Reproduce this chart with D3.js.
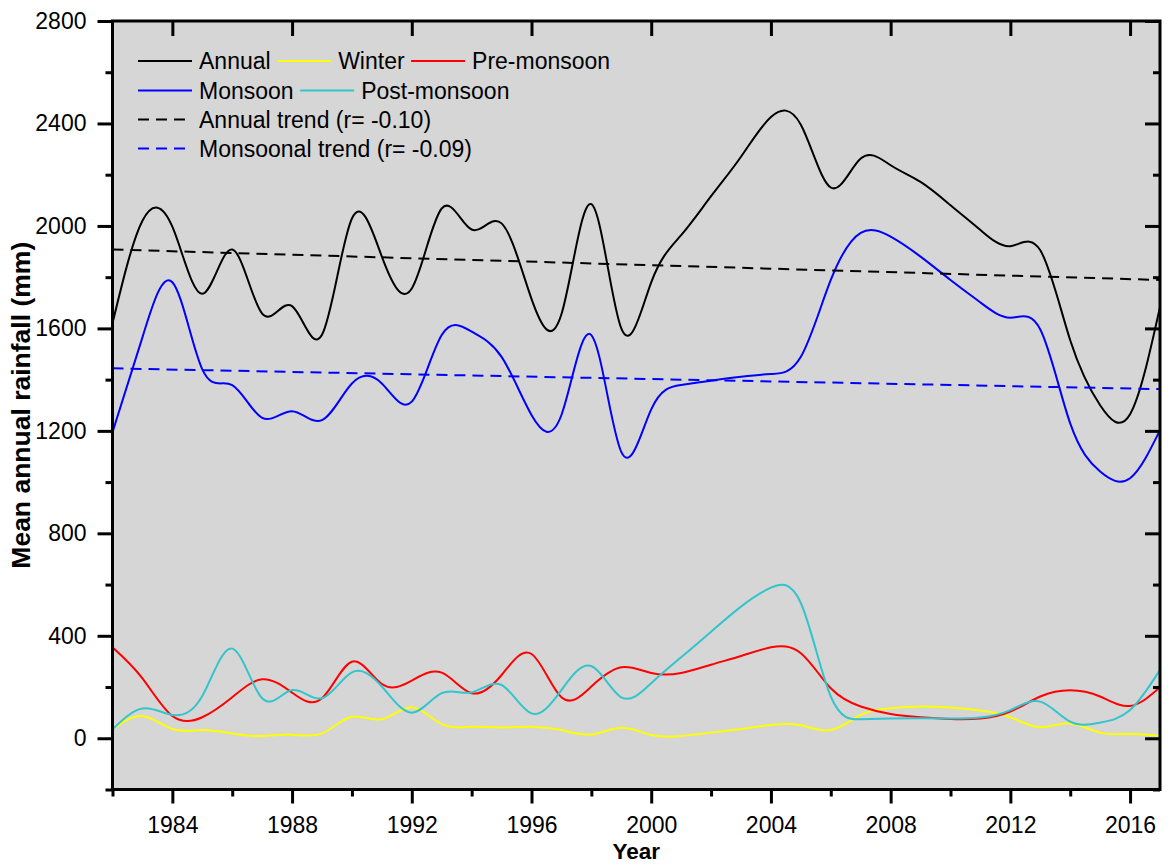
<!DOCTYPE html>
<html><head><meta charset="utf-8">
<script src="https://cdn.jsdelivr.net/npm/d3@7"></script>
<style>
body{margin:0;background:#fff;}
svg{display:block;font-family:"Liberation Sans",Arial,sans-serif;}
</style></head><body>
<svg id="chart" width="1168" height="864"></svg>
<script>
// ---------------- data ----------------
const years = [1982,1983,1984,1985,1986,1987,1988,1989,1990,1991,1992,1993,1994,1995,1996,1997,1998,1999,
               2000,2001,2002,2003,2004,2005,2006,2007,2008,2009,2010,2011,2012,2013,2014,2015,2016,2017];
const annual = [1620,2020,1997,1735,1908,1658,1687,1575,2029,1880,1756,2068,1986,2010,1715,1655,2085,1600,
                1780,1964,2116,2270,2425,2395,2150,2263,2237,2172,2081,1984,1921,1905,1554,1300,1265,1684];
const winter = [35,87,36,32,19,9,14,19,84,74,121,55,45,42,45,32,15,41,
                13,9,22,36,52,51,32,91,117,124,120,108,82,43,58,22,17,10];
const preMonsoon = [355,234,87,82,160,230,178,156,299,212,225,256,176,247,329,160,202,277,
                    255,255,287,321,355,332,195,124,95,82,75,77,104,163,187,163,126,199];
const monsoon = [1195,1565,1780,1440,1379,1251,1277,1242,1385,1385,1314,1574,1587,1489,1262,1262,1574,1118,
                 1284,1379,1396,1411,1422,1489,1789,1973,1958,1880,1789,1701,1642,1596,1229,1041,1015,1203];
const postMonsoon = [35,116,91,165,350,156,188,156,257,202,100,176,179,208,97,188,282,160,
                     215,316,416,514,588,528,163,74,77,78,77,81,110,143,65,61,110,267];
const trendYears = [1982, 2017];
const annualTrend = [1908, 1789];
const monsoonTrend = [1444, 1363];

const xMajorTicks = [1984,1988,1992,1996,2000,2004,2008,2012,2016];
const xMinorTicks = [1982,1986,1990,1994,1998,2002,2006,2010,2014];
const yMajorTicks = [0,400,800,1200,1600,2000,2400,2800];
const yMinorTicks = [-200,200,600,1000,1400,1800,2200,2600];

const seriesNames = ["Annual","Winter","Pre-monsoon","Monsoon","Post-monsoon"];
const seriesData = [annual, winter, preMonsoon, monsoon, postMonsoon];
const seriesColors = ["#000000","#ffff00","#ff0000","#0000ff","#33c4cc"];
const trendNames = ["Annual trend (r= -0.10)","Monsoonal trend (r= -0.09)"];
const trendData = [annualTrend, monsoonTrend];
const trendColors = ["#000000","#0000ff"];
const xTitle = "Year";
const yTitle = "Mean annual rainfall (mm)";

// ---------------- layout ----------------
const L = 112.5, R = 1160, T = 21, B = 789.5;
const FS = 23;
const svg = d3.select("#chart");
const x = d3.scaleLinear().domain([1982, 2017]).range([L, R]);
const y = d3.scaleLinear().domain([-200, 2800]).range([B, T]);

svg.append("rect").attr("x", L).attr("y", T).attr("width", R - L).attr("height", B - T)
   .attr("fill", "#d6d6d6");

svg.append("defs").append("clipPath").attr("id", "clip")
   .append("rect").attr("x", L).attr("y", T).attr("width", R - L).attr("height", B - T);

const plot = svg.append("g").attr("clip-path", "url(#clip)");

const line = d3.line().curve(d3.curveNatural);

seriesData.forEach((vals, i) => {
  plot.append("path")
    .attr("d", line(years.map((yr, j) => [x(yr), y(vals[j])])))
    .attr("fill", "none").attr("stroke", seriesColors[i]).attr("stroke-width", 2);
});
trendData.forEach((vals, i) => {
  plot.append("path")
    .attr("d", d3.line()(trendYears.map((yr, j) => [x(yr), y(vals[j])])))
    .attr("fill", "none").attr("stroke", trendColors[i]).attr("stroke-width", 2)
    .attr("stroke-dasharray", "11,7");
});

// ---------------- axes ----------------
function styleAxis(g) {
  g.select(".domain").remove();
  g.selectAll(".tick line").attr("stroke", "#000").attr("stroke-width", 3);
  g.selectAll("text").attr("font-size", FS).attr("fill", "#000")
   .attr("font-family", '"Liberation Sans", Arial, sans-serif');
}
svg.append("g").attr("transform", `translate(${L},0)`)
  .call(d3.axisLeft(y).tickValues(yMajorTicks).tickSize(15).tickPadding(11).tickFormat(d3.format("d")))
  .call(styleAxis);
svg.append("g").attr("transform", `translate(${L},0)`)
  .call(d3.axisLeft(y).tickValues(yMinorTicks).tickSize(7).tickFormat(""))
  .call(styleAxis);
svg.append("g").attr("transform", `translate(${R},0)`)
  .call(d3.axisRight(y).tickValues(yMajorTicks).tickSize(-15).tickFormat(""))
  .call(styleAxis);
svg.append("g").attr("transform", `translate(${R},0)`)
  .call(d3.axisRight(y).tickValues(yMinorTicks).tickSize(-7).tickFormat(""))
  .call(styleAxis);
svg.append("g").attr("transform", `translate(0,${B})`)
  .call(d3.axisBottom(x).tickValues(xMajorTicks).tickSize(14).tickPadding(13).tickFormat(d3.format("d")))
  .call(styleAxis);
svg.append("g").attr("transform", `translate(0,${B})`)
  .call(d3.axisBottom(x).tickValues(xMinorTicks).tickSize(7).tickFormat(""))
  .call(styleAxis);
svg.append("g").attr("transform", `translate(0,${T})`)
  .call(d3.axisTop(x).tickValues(xMajorTicks).tickSize(-15).tickFormat(""))
  .call(styleAxis);

svg.append("rect").attr("x", L).attr("y", T).attr("width", R - L).attr("height", B - T)
   .attr("fill", "none").attr("stroke", "#000").attr("stroke-width", 3);

svg.append("text").attr("x", (L + R) / 2).attr("y", 859)
   .attr("text-anchor", "middle").attr("font-weight", "bold").attr("font-size", 22.5)
   .text(xTitle);
svg.append("text").attr("transform", `translate(30,${(T + B) / 2}) rotate(-90)`)
   .attr("text-anchor", "middle").attr("font-weight", "bold").attr("font-size", 26.5)
   .text(yTitle);

// ---------------- legend ----------------
const legendRows = [
  [{n: seriesNames[0], c: seriesColors[0]}, {n: seriesNames[1], c: seriesColors[1]}, {n: seriesNames[2], c: seriesColors[2]}],
  [{n: seriesNames[3], c: seriesColors[3]}, {n: seriesNames[4], c: seriesColors[4]}],
  [{n: trendNames[0], c: trendColors[0], dash: true}],
  [{n: trendNames[1], c: trendColors[1], dash: true}]
];
const leg = svg.append("g");
const rowY = [61, 90.5, 119.5, 148.5];
legendRows.forEach((row, r) => {
  let cx = 138;
  row.forEach(item => {
    leg.append("line").attr("x1", cx).attr("x2", cx + 54).attr("y1", rowY[r]).attr("y2", rowY[r])
      .attr("stroke", item.c).attr("stroke-width", 2)
      .attr("stroke-dasharray", item.dash ? "11,7" : null);
    const t = leg.append("text").attr("x", cx + 61).attr("y", rowY[r]).attr("dy", "0.36em")
      .attr("font-size", FS).text(item.n);
    cx = cx + 61 + t.node().getComputedTextLength() + 6.5;
  });
});
</script>
</body></html>
